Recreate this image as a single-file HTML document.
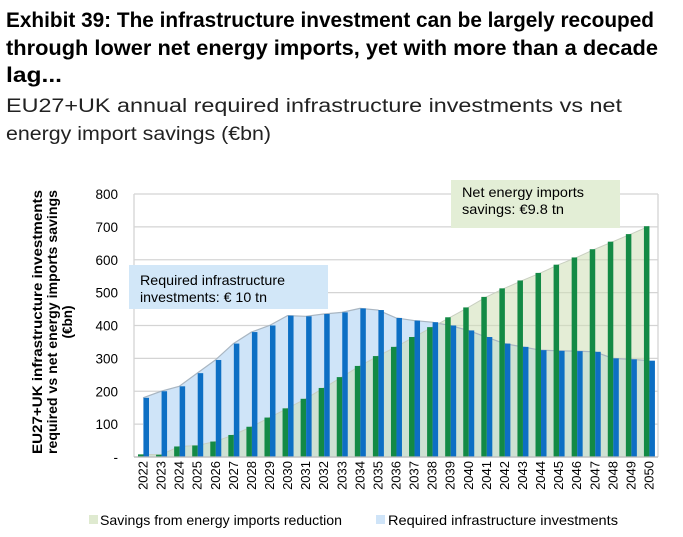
<!DOCTYPE html>
<html><head><meta charset="utf-8"><style>
body{margin:0;background:#fff;font-family:"Liberation Sans",sans-serif;}
#wrap{position:relative;width:683px;height:537px;overflow:hidden;}
</style></head><body>
<div id="wrap">
<svg id="chart" width="683" height="537" style="position:absolute;left:0;top:0">
<g font-size="21" font-weight="bold" fill="#000">
<text x="6" y="27" textLength="648" lengthAdjust="spacingAndGlyphs">Exhibit 39: The infrastructure investment can be largely recouped</text>
<text x="6" y="55" textLength="652" lengthAdjust="spacingAndGlyphs">through lower net energy imports, yet with more than a decade</text>
<text x="6" y="82" textLength="56" lengthAdjust="spacingAndGlyphs">lag...</text>
</g>
<g font-size="19" fill="#222">
<text x="6" y="112" textLength="616" lengthAdjust="spacingAndGlyphs">EU27+UK annual required infrastructure investments vs net</text>
<text x="6" y="140" textLength="265" lengthAdjust="spacingAndGlyphs">energy import savings (€bn)</text>
</g>
</svg>
</div>
<script>
const years=[2022,2023,2024,2025,2026,2027,2028,2029,2030,2031,2032,2033,2034,2035,2036,2037,2038,2039,2040,2041,2042,2043,2044,2045,2046,2047,2048,2049,2050];
const invest=[180,200,215,255,295,345,380,400,430,428,435,440,452,447,423,415,410,400,385,365,345,335,325,323,322,320,300,297,293];
const savings=[8,7,32,35,47,67,92,120,148,177,210,243,277,307,335,365,395,425,455,487,513,537,560,585,607,632,655,678,702];
const yTicks=[0,100,200,300,400,500,600,700,800];
const yTickLabels=["-","100","200","300","400","500","600","700","800"];

const svg=document.getElementById('chart');
const NS='http://www.w3.org/2000/svg';
const X0=134,X1=658,Y0=457,Y1=194;
const bw=(X1-X0)/years.length;
function y(v){return Y0-(v/800)*(Y0-Y1);}
function xc(i){return X0+bw*i+bw/2;}
function mk(tag,a,p){const e=document.createElementNS(NS,tag);for(const k in a)e.setAttribute(k,a[k]);(p||svg).appendChild(e);return e;}

yTicks.forEach((v,i)=>{
  const g=mk('line',{x1:X0,x2:X1,y1:y(v),y2:y(v),stroke:'#d4d4d4','stroke-width':1.3});
  
  
  const t=mk('text',{x:118,y:y(v)+5,'text-anchor':'end','font-size':13.5,fill:'#000'});
  t.textContent=yTickLabels[i];
  
  
});
mk('line',{x1:X0,x2:X0,y1:Y1,y2:Y0,stroke:'#d4d4d4','stroke-width':1.3});
mk('line',{x1:X1,x2:X1,y1:Y1,y2:Y0,stroke:'#d4d4d4','stroke-width':1.3});

function areaPath(arr){let d='M'+xc(0)+','+Y0;arr.forEach((v,i)=>d+=' L'+xc(i)+','+y(v));d+=' L'+xc(arr.length-1)+','+Y0+' Z';return d;}
function linePath(arr){return arr.map((v,i)=>(i?'L':'M')+xc(i)+','+y(v)).join(' ');}
const ai=mk('path',{d:areaPath(invest),fill:'#cfe4f8'});


const as=mk('path',{d:areaPath(savings),fill:'rgba(205,222,180,0.55)'});


mk('path',{d:linePath(invest),fill:'none',stroke:'#a9b6c2','stroke-width':1.2});
mk('path',{d:linePath(savings),fill:'none',stroke:'#c8cfc0','stroke-width':1});

years.forEach((yr,i)=>{
  const x=X0+bw*i;
  const g=mk('rect',{x:x+4,y:y(savings[i]),width:5.5,height:Y0-y(savings[i]),fill:'#138a45'});
  
  
  const b=mk('rect',{x:x+9.5,y:y(invest[i]),width:5.5,height:Y0-y(invest[i]),fill:'#0d6fc4'});
  
  
  const t=mk('text',{x:0,y:0,'font-size':13,fill:'#000','text-anchor':'end',transform:'translate('+(xc(i)+4.5)+','+(Y0+4)+') rotate(-90)'});
  t.textContent=yr;
  
  
});
mk('line',{x1:X0,x2:X1,y1:Y0,y2:Y0,stroke:'#bbb','stroke-width':1.3});

const b1=mk('rect',{x:129,y:265,width:199,height:44,fill:'#d2e7f8'});


[['Required infrastructure',285,145],['investments: € 10 tn',302,127]].forEach(a=>{const t=mk('text',{x:140,y:a[1],'font-size':14,fill:'#000',textLength:a[2],lengthAdjust:'spacingAndGlyphs'});t.textContent=a[0];});
const b2=mk('rect',{x:451,y:180,width:169,height:48,fill:'#e3eed6'});


[['Net energy imports',197,122],['savings: €9.8 tn',214,102]].forEach(a=>{const t=mk('text',{x:462,y:a[1],'font-size':14,fill:'#000',textLength:a[2],lengthAdjust:'spacingAndGlyphs'});t.textContent=a[0];});

const yt=mk('text',{'font-size':13.5,'font-weight':'bold','text-anchor':'middle',transform:'translate(52,322) rotate(-90)'});


[['EU27+UK infrastructure investments',-10,264],['required vs net energy imports savings',5,264],['(€bn)',20,null]].forEach(s=>{
  const a={x:0,y:s[1]};
  if(s[2]){a.textLength=s[2];a.lengthAdjust='spacingAndGlyphs';}
  const ts=mk('text',a,yt);
});
yt.remove();
const ytg=mk('g',{'font-size':13.5,'font-weight':'bold','text-anchor':'middle',transform:'translate(52,322) rotate(-90)'});


[['EU27+UK infrastructure investments',-10,264],['required vs net energy imports savings',5,264],['(€bn)',20,0]].forEach(s=>{
  const a={x:0,y:s[1]};
  if(s[2]){a.textLength=s[2];a.lengthAdjust='spacingAndGlyphs';}
  const t=mk('text',a,ytg);t.textContent=s[0];
});

const l1=mk('rect',{x:89,y:515,width:9,height:9,fill:'#dfead0'});


const lt1=mk('text',{x:100,y:525,'font-size':14,textLength:242,lengthAdjust:'spacingAndGlyphs'});lt1.textContent='Savings from energy imports reduction';


const l2=mk('rect',{x:376,y:515,width:9,height:9,fill:'#cfe4f8'});


const lt2=mk('text',{x:388,y:525,'font-size':14,textLength:230,lengthAdjust:'spacingAndGlyphs'});lt2.textContent='Required  infrastructure investments';


</script>
</body></html>
